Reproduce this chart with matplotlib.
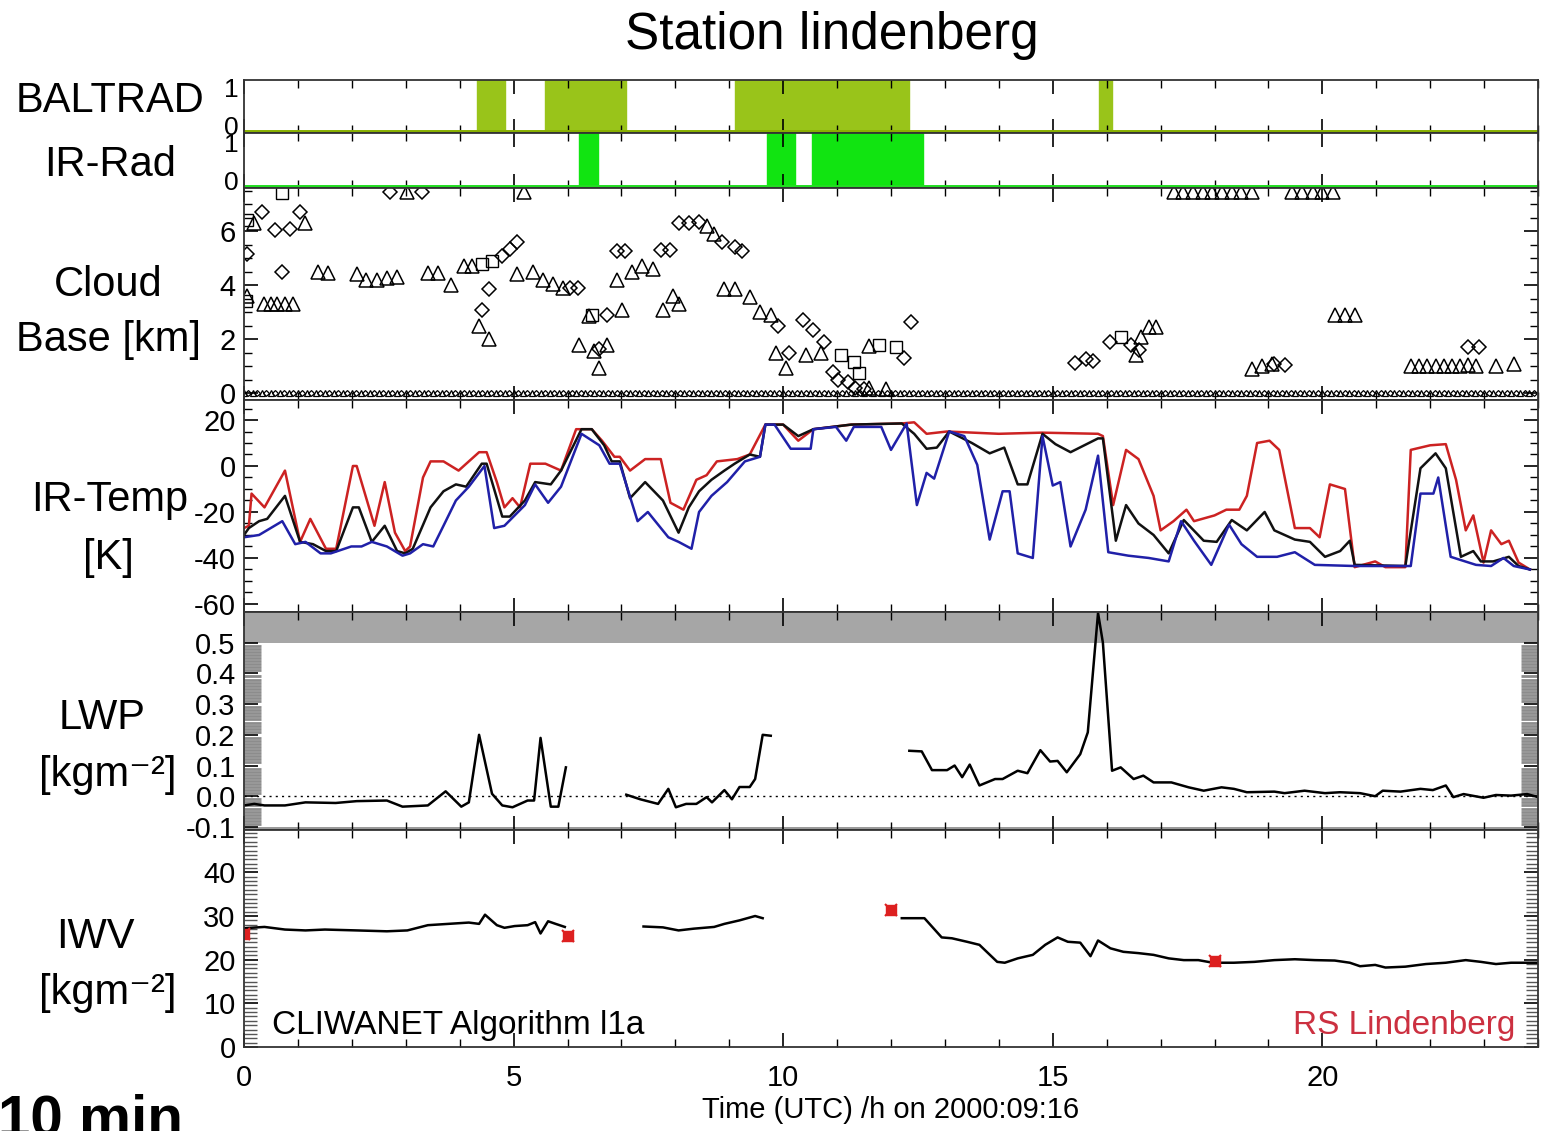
import numpy as np
import matplotlib
matplotlib.use('Agg')
import matplotlib.pyplot as plt
from matplotlib.ticker import MultipleLocator, FixedLocator

plt.rcParams['font.family'] = ['Liberation Sans', 'DejaVu Sans']
plt.rcParams['axes.unicode_minus'] = False

W, H = 1543, 1131

# instrument on/off periods (start hour, duration)
baltrad_on = [(4.33, 0.52), (5.59, 1.50), (9.11, 3.22), (15.85, 0.24)]
irrad_on = [(6.22, 0.34), (9.70, 0.52), (10.54, 2.05)]

# cloud base heights [km]
cb_dia_t = [0.05, 0.33, 0.57, 0.71, 0.85, 1.04, 2.70, 3.30, 4.41, 4.55, 4.79, 4.93, 5.07, 6.05, 6.20,
            6.59, 6.73, 6.92, 7.06, 7.73, 7.91, 8.06, 8.25, 8.44, 8.86, 9.10, 9.24, 9.90, 10.10,
            10.37, 10.56, 10.75, 10.93, 11.02, 11.20, 11.33, 11.50, 12.24, 12.38, 15.42, 15.61,
            15.75, 16.07, 16.45, 16.60, 19.10, 19.30, 22.71, 22.90]
cb_dia_v = [5.15, 6.70, 6.05, 4.50, 6.10, 6.70, 7.45, 7.45, 3.10, 3.85, 5.10, 5.35, 5.60, 3.90, 3.90,
            1.65, 2.90, 5.25, 5.25, 5.30, 5.30, 6.30, 6.30, 6.35, 5.60, 5.40, 5.25, 2.50, 1.50,
            2.70, 2.35, 1.90, 0.80, 0.50, 0.40, 0.20, 0.15, 1.30, 2.65, 1.13, 1.25,
            1.20, 1.90, 1.80, 1.60, 1.10, 1.05, 1.70, 1.70]
cb_tri_t = [0.05, 0.19, 0.38, 0.50, 0.62, 0.76, 0.90, 1.14, 1.37, 1.56, 2.09, 2.27, 2.46, 2.65, 2.84,
            3.03, 3.41, 3.60, 3.84, 4.08, 4.22, 4.36, 4.55, 5.07, 5.20, 5.36, 5.55, 5.73, 5.92,
            6.21, 6.40, 6.50, 6.59, 6.73, 6.92, 7.01, 7.20, 7.39, 7.58, 7.77, 7.96, 8.06, 8.58,
            8.72, 8.91, 9.10, 9.38, 9.57, 9.77, 9.86, 10.05, 10.42, 10.70, 11.59, 11.60, 11.90,
            16.54, 16.64, 16.78, 16.92, 17.24, 17.42, 17.60, 17.78, 17.96, 18.14, 18.32, 18.50,
            18.69, 18.69, 18.88, 19.07, 19.44, 19.63, 19.82, 20.00, 20.19, 20.23, 20.42, 20.60,
            21.64, 21.80, 21.95, 22.10, 22.25, 22.40, 22.55, 22.70, 22.85, 23.22, 23.55]
cb_tri_v = [3.60, 6.30, 3.30, 3.30, 3.30, 3.30, 3.30, 6.30, 4.50, 4.45, 4.40, 4.20, 4.20, 4.25, 4.30,
            7.45, 4.45, 4.45, 4.00, 4.70, 4.70, 2.50, 2.00, 4.40, 7.45, 4.50, 4.20, 4.05, 3.90,
            1.80, 2.85, 1.55, 0.95, 1.80, 4.20, 3.10, 4.50, 4.70, 4.60, 3.10, 3.60, 3.30, 6.20,
            5.90, 3.85, 3.85, 3.55, 3.00, 2.90, 1.50, 0.95, 1.40, 1.50, 1.75, 0.20, 0.15,
            1.40, 2.10, 2.45, 2.45, 7.45, 7.45, 7.45, 7.45, 7.45, 7.45, 7.45, 7.45,
            7.45, 0.90, 1.00, 1.10, 7.45, 7.45, 7.45, 7.45, 7.45, 2.90, 2.90, 2.90,
            1.00, 1.00, 1.00, 1.00, 1.00, 1.00, 1.00, 1.05, 1.00, 1.00, 1.10]
cb_sq_t = [0.03, 0.05, 0.71, 4.41, 4.60, 6.45, 11.07, 11.31, 11.40, 11.78, 12.10, 16.26]
cb_sq_v = [3.40, 6.40, 7.40, 4.80, 4.90, 2.90, 1.40, 1.15, 0.75, 1.80, 1.70, 2.10]

# IR brightness temperatures [K offset]
red_t = [0.0, 0.09, 0.14, 0.38, 0.76, 1.04, 1.23, 1.52, 1.71, 2.02, 2.09, 2.42, 2.61, 2.80, 2.99,
         3.08, 3.32, 3.46, 3.70, 3.98, 4.36, 4.50, 4.69, 4.83, 4.98, 5.12, 5.31, 5.59, 5.88, 6.16,
         6.45, 6.64, 6.87, 6.97, 7.16, 7.44, 7.73, 7.91, 8.15, 8.39, 8.58, 8.77, 9.15, 9.38, 9.67,
         10.0, 10.28, 10.56, 11.26, 12.2, 12.43, 12.66, 13.04, 14.0, 14.8, 15.84, 15.93, 16.12,
         16.36, 16.59, 16.87, 17.0, 17.24, 17.48, 17.62, 18.0, 18.22, 18.46, 18.6, 18.79, 19.02,
         19.2, 19.49, 19.77, 19.95, 20.14, 20.42, 20.6, 20.98, 21.17, 21.54, 21.64, 22.0, 22.29,
         22.48, 22.66, 22.8, 22.99, 23.13, 23.32, 23.46, 23.64, 23.85]
red_v = [-27, -26, -12, -18, -2, -33, -23, -36, -36, 0, 0, -26, -7, -29, -37,
         -35, -5, 2, 2, -2, 6, 6, -7, -18, -14, -18, 1, 1, -2, 16,
         16, 11, 4, 4, -2, 3, 3, -16, -19, -6, -4, 2, 3, 5, 18,
         18, 11, 16, 18, 18.5, 19, 14, 15, 14, 14.5, 14, 13, -17,
         7, 3, -13, -28, -24, -19, -24, -21.5, -19, -19, -13, 10, 11,
         7, -27, -27, -31, -8, -10, -44, -41.5, -44, -44, 7, 9, 9.5,
         -6, -28, -21.5, -42, -28, -34, -32.5, -42, -45]
blk_t = [0.0, 0.09, 0.28, 0.43, 0.76, 1.04, 1.28, 1.52, 1.71, 2.02, 2.13, 2.37, 2.61, 2.84, 2.99,
         3.13, 3.46, 3.70, 3.93, 4.12, 4.41, 4.50, 4.79, 4.93, 5.21, 5.40, 5.69, 5.88, 6.26, 6.45,
         6.68, 6.82, 6.97, 7.16, 7.44, 7.77, 8.06, 8.25, 8.44, 8.67, 8.91, 9.10, 9.38, 9.57, 9.67,
         10.0, 10.28, 10.56, 11.26, 12.2, 12.43, 12.66, 12.85, 13.08, 13.5, 13.83, 14.1, 14.35,
         14.53, 14.81, 15.05, 15.33, 15.84, 15.93, 16.17, 16.36, 16.59, 16.87, 17.15, 17.43, 17.8,
         18.04, 18.32, 18.6, 18.93, 19.11, 19.49, 19.77, 20.05, 20.33, 20.51, 20.6, 21.54, 21.82,
         22.1, 22.29, 22.57, 22.8, 22.94, 23.17, 23.46, 23.64, 23.85]
blk_v = [-30, -27, -24, -23, -13, -33, -34, -37, -37, -18, -18, -33, -26, -37, -38,
         -36, -18, -11, -8, -9, 1, 1, -22, -22, -15, -7, -8, -2, 16, 16,
         9, 2, 2, -14, -7, -15, -29, -18, -11, -6, -2, 1, 5, 4, 18,
         18, 13, 16, 18, 18.5, 14, 7.5, 8, 15, 10, 5.5, 8, -8,
         -8, 14, 9.5, 6, 12, 12, -32.5, -17, -25, -30, -38, -23.5, -32.5,
         -33, -23.5, -28, -20, -28, -32, -33, -39.5, -37, -32.5, -43, -43.5, -1,
         5.5, -1, -39.5, -37, -41.5, -41.5, -39.5, -43.5, -45]
blu_t = [0.0, 0.28, 0.71, 0.95, 1.14, 1.42, 1.61, 1.99, 2.18, 2.37, 2.65, 2.94, 3.08, 3.32, 3.51,
         3.70, 3.93, 4.17, 4.46, 4.64, 4.83, 5.21, 5.40, 5.64, 5.88, 6.26, 6.59, 6.78, 6.97, 7.30,
         7.49, 7.87, 8.06, 8.30, 8.44, 8.67, 8.96, 9.29, 9.57, 9.67, 9.84, 10.14, 10.51, 10.56,
         10.98, 11.17, 11.31, 11.82, 12.0, 12.29, 12.48, 12.66, 12.8, 13.08, 13.36, 13.6, 13.83,
         14.07, 14.2, 14.35, 14.63, 14.81, 15.0, 15.14, 15.33, 15.61, 15.84, 16.03, 16.4, 16.78,
         17.15, 17.38, 17.62, 17.94, 18.27, 18.5, 18.79, 19.16, 19.49, 19.86, 20.6, 21.64, 21.82,
         22.06, 22.15, 22.38, 22.85, 23.13, 23.36, 23.55, 23.85]
blu_v = [-31, -30, -24, -34, -33, -38, -38, -35, -35, -33, -35, -39, -38, -34, -35,
         -26, -15, -9, 0, -27, -26, -17, -8, -16, -9, 14, 9, 1, 1, -24,
         -20, -31, -33, -36, -20, -13, -7, 2, 4, 18, 18, 7.5, 7.5, 16,
         17, 11, 17, 17, 7, 18.5, -17, -3, -5.5, 15, 13, 0.5, -32,
         -11, -11, -38, -40, 13, -8.5, -7, -35, -19, 4.5, -37.5, -39, -40,
         -41.5, -24, -32.5, -43, -25.5, -34, -39.5, -39.5, -37.5, -43, -43.5, -43.5, -12,
         -12, -5, -39.5, -43, -43.5, -40, -43.5, -45]

# liquid water path [kg m-2], nan = no data
lwp_t = [0.0, 0.19, 0.38, 0.76, 1.14, 1.7, 2.09, 2.65, 2.94, 3.41, 3.74, 4.03, 4.17, 4.36, 4.6,
         4.79, 4.98, 5.26, 5.38, 5.5, 5.69, 5.83, 5.97, 6.5, 7.09, 7.35, 7.68, 7.87, 8.01, 8.2,
         8.39, 8.58, 8.68, 8.91, 9.05, 9.19, 9.38, 9.48, 9.62, 9.77, 11.0, 12.34, 12.57, 12.76,
         13.04, 13.18, 13.32, 13.46, 13.64, 13.93, 14.07, 14.35, 14.53, 14.77, 14.95, 15.09,
         15.26, 15.51, 15.65, 15.84, 15.93, 16.1, 16.26, 16.5, 16.68, 16.87, 17.2, 17.52, 17.8,
         18.13, 18.36, 18.6, 19.11, 19.3, 19.67, 20.05, 20.33, 20.7, 20.98, 21.12, 21.45, 21.82,
         22.05, 22.29, 22.43, 22.62, 22.99, 23.22, 23.5, 23.8, 24.0]
lwp_v = [-0.03, -0.025, -0.03, -0.03, -0.02, -0.022, -0.016, -0.014, -0.034, -0.03, 0.016, -0.034,
         -0.02, 0.2, 0.008, -0.03, -0.036, -0.014, -0.014, 0.19, -0.034, -0.034, 0.094, np.nan,
         0.005, -0.01, -0.025, 0.024, -0.036, -0.025, -0.025, -0.003, -0.02, 0.02, -0.01, 0.03,
         0.03, 0.056, 0.2, 0.197, np.nan, 0.148, 0.146, 0.085, 0.085, 0.1, 0.062, 0.103, 0.035,
         0.056, 0.056, 0.083, 0.075, 0.15, 0.113, 0.115, 0.078, 0.137, 0.208, 0.597, 0.5, 0.083,
         0.094, 0.056, 0.067, 0.045, 0.045, 0.029, 0.018, 0.029, 0.024, 0.013, 0.015, 0.01,
         0.018, 0.01, 0.013, 0.01, 0.0, 0.018, 0.015, 0.024, 0.02, 0.035, -0.003, 0.007, -0.005,
         0.004, 0.002, 0.007, -0.003]

# integrated water vapour [kg m-2]
iwv_t = [0.0, 0.38, 0.76, 1.14, 1.5, 2.09, 2.65, 3.03, 3.41, 3.79, 4.17, 4.36, 4.47, 4.69, 4.83,
         5.02, 5.26, 5.4, 5.5, 5.64, 5.78, 5.95, 6.6, 7.41, 7.77, 8.06, 8.34, 8.72, 8.91, 9.19,
         9.48, 9.62, 11.0, 12.2, 12.62, 12.94, 13.13, 13.41, 13.64, 13.97, 14.11, 14.35, 14.63,
         14.86, 15.09, 15.28, 15.51, 15.7, 15.84, 16.07, 16.31, 16.59, 16.87, 17.15, 17.43, 17.7,
         17.97, 18.36, 18.74, 19.11, 19.49, 19.86, 20.23, 20.51, 20.7, 20.98, 21.17, 21.54,
         21.92, 22.29, 22.66, 22.94, 23.22, 23.5, 24.0]
iwv_v = [27.2, 27.5, 26.9, 26.7, 26.9, 26.7, 26.5, 26.7, 27.9, 28.2, 28.5, 28.2, 30.3, 27.9, 27.3,
         27.7, 27.9, 28.6, 26.0, 28.8, 28.2, 27.5, np.nan, 27.6, 27.4, 26.7, 27.1, 27.5, 28.2, 29.0,
         30.0, 29.5, np.nan, 29.5, 29.5, 25.1, 24.9, 24.1, 23.4, 19.5, 19.3, 20.3, 21.1,
         23.4, 25.1, 24.1, 23.9, 20.8, 24.4, 22.6, 21.8, 21.5, 21.1, 20.3, 19.9, 19.9,
         19.3, 19.3, 19.5, 19.9, 20.1, 19.9, 19.8, 19.3, 18.5, 18.8, 18.2, 18.4,
         19.0, 19.3, 19.9, 19.5, 19.0, 19.3, 19.3]

# radiosonde IWV
rs_t = [0, 6, 12, 18]
rs_v = [25.8, 25.4, 31.4, 19.6]

fig = plt.figure(figsize=(W / 100, H / 100), dpi=100)


def panel(top, bottom):
    return fig.add_axes([244 / W, 1 - bottom / H, (1538 - 244) / W, (bottom - top) / H])


ax_bal = panel(80, 133)
ax_ir = panel(133, 188)
ax_cb = panel(188, 400)
ax_tmp = panel(400, 612)
ax_lwp = panel(612, 830)
ax_iwv = panel(830, 1047)
axes = [ax_bal, ax_ir, ax_cb, ax_tmp, ax_lwp, ax_iwv]

for ax in axes:
    ax.set_xlim(0, 24)
    ax.xaxis.set_major_locator(MultipleLocator(5))
    ax.xaxis.set_minor_locator(MultipleLocator(1))
    ax.tick_params(which='both', direction='in', top=True, right=True, labelsize=21, pad=6)
    ax.tick_params(which='major', length=10, width=1.2)
    ax.tick_params(which='minor', length=6, width=1.0)
    for s in ax.spines.values():
        s.set_linewidth(1.3)
        s.set_color('#333333')
    if ax is not ax_iwv:
        ax.tick_params(axis='x', labelbottom=False)

# BALTRAD / IR-Rad flags
ax_bal.set_ylim(-0.21, 1.21)
ax_bal.broken_barh(baltrad_on, (-0.21, 1.42), color='#99c41a')
ax_bal.axhline(-0.21, color='#88b000', lw=5)
ax_bal.set_yticks([0, 1])
ax_bal.tick_params(axis='y', length=0, labelsize=19, pad=4)

ax_ir.set_ylim(-0.21, 1.25)
ax_ir.broken_barh(irrad_on, (-0.21, 1.46), color='#11e411')
ax_ir.axhline(-0.21, color='#22dd22', lw=5)
ax_ir.set_yticks([0, 1])
ax_ir.tick_params(axis='y', length=0, labelsize=19, pad=4)

# cloud base
ax_cb.set_ylim(-0.25, 7.6)
ax_cb.set_yticks([0, 2, 4, 6])
ax_cb.yaxis.set_minor_locator(MultipleLocator(0.5))
zero_t = np.arange(0, 24, 1 / 6)
ax_cb.plot(zero_t, np.zeros_like(zero_t), ls='none', marker='^', ms=5, mfc='none', mec='k', mew=0.9)
ax_cb.plot(zero_t + 1 / 12, np.zeros_like(zero_t), ls='none', marker='D', ms=3, mfc='none', mec='k', mew=0.9)
ax_cb.plot(cb_tri_t, cb_tri_v, ls='none', marker='^', ms=10, mfc='none', mec='k', mew=1.1)
ax_cb.plot(cb_dia_t, cb_dia_v, ls='none', marker='D', ms=7.5, mfc='none', mec='k', mew=1.1)
ax_cb.plot(cb_sq_t, cb_sq_v, ls='none', marker='s', ms=8, mfc='none', mec='k', mew=1.0)

# IR temperatures
ax_tmp.set_ylim(-63.5, 28.7)
ax_tmp.set_yticks([-60, -40, -20, 0, 20])
ax_tmp.yaxis.set_minor_locator(MultipleLocator(5))
ax_tmp.plot(red_t, red_v, color='#cc2222', lw=1.8)
ax_tmp.plot(blk_t, blk_v, color='#111111', lw=1.8)
ax_tmp.plot(blu_t, blu_v, color='#2020a8', lw=1.8)

# LWP
ax_lwp.set_ylim(-0.11, 0.6)
ax_lwp.axhspan(0.5, 0.6, color='#a6a6a6', lw=0)
ax_lwp.axhspan(-0.11, -0.1, color='#9a9a9a', lw=0)
ax_lwp.set_yticks([-0.1, 0.0, 0.1, 0.2, 0.3, 0.4, 0.5])
ax_lwp.set_yticklabels(['-0.1', '0.0', '0.1', '0.2', '0.3', '0.4', '0.5'])
ax_lwp.yaxis.set_minor_locator(FixedLocator(np.arange(-0.1, 0.501, 0.01)))
ax_lwp.tick_params(axis='y', which='minor', length=12, width=2, color='#8c8c8c')
ax_lwp.axhline(0, color='k', ls=(0, (1.5, 3)), lw=1)
ax_lwp.plot(lwp_t, lwp_v, color='k', lw=1.8)

# IWV
ax_iwv.set_ylim(0, 49.7)
ax_iwv.set_yticks([0, 10, 20, 30, 40])
ax_iwv.yaxis.set_minor_locator(MultipleLocator(1))
ax_iwv.tick_params(axis='y', which='minor', length=9, width=1.0, color='#555555')
ax_iwv.tick_params(axis='x', pad=12)
ax_iwv.plot(iwv_t, iwv_v, color='k', lw=1.8)
ax_iwv.plot(rs_t, rs_v, ls='none', marker='s', ms=7, color='#dd2020')
ax_iwv.plot(rs_t, rs_v, ls='none', marker='x', ms=8, mew=1.5, color='#dd2020')
ax_iwv.set_xticks([0, 5, 10, 15, 20])
ax_iwv.text(0.52, 5.0, 'CLIWANET Algorithm l1a', fontsize=24, va='center', ha='left')
ax_iwv.text(23.58, 5.0, 'RS Lindenberg', fontsize=24, va='center', ha='right', color='#cc3040')

# labels
fig.text(832 / W, 1 - 35 / H, 'Station lindenberg', fontsize=37, ha='center', va='center')
side = dict(fontsize=30, ha='center', va='center')
unit = '[kgm\u207b\u00b2]'
fig.text(110 / W, 1 - 101 / H, 'BALTRAD', **side)
fig.text(110 / W, 1 - 165 / H, 'IR-Rad', **side)
fig.text(108 / W, 1 - 285 / H, 'Cloud', **side)
fig.text(108 / W, 1 - 340 / H, 'Base [km]', **side)
fig.text(110 / W, 1 - 500 / H, 'IR-Temp', **side)
fig.text(108 / W, 1 - 558 / H, '[K]', **side)
fig.text(102 / W, 1 - 718 / H, 'LWP', **side)
fig.text(108 / W, 1 - 775 / H, unit, **side)
fig.text(95 / W, 1 - 937 / H, 'IWV', **side)
fig.text(108 / W, 1 - 993 / H, unit, **side)
fig.text(891 / W, 1 - 1110 / H, 'Time (UTC) /h on 2000:09:16', fontsize=21, ha='center', va='center')
fig.text(-2 / W, 1 - 1136 / H, '10 min', fontsize=42, fontweight='bold', ha='left', va='baseline')

fig.savefig('out.png', dpi=100)
